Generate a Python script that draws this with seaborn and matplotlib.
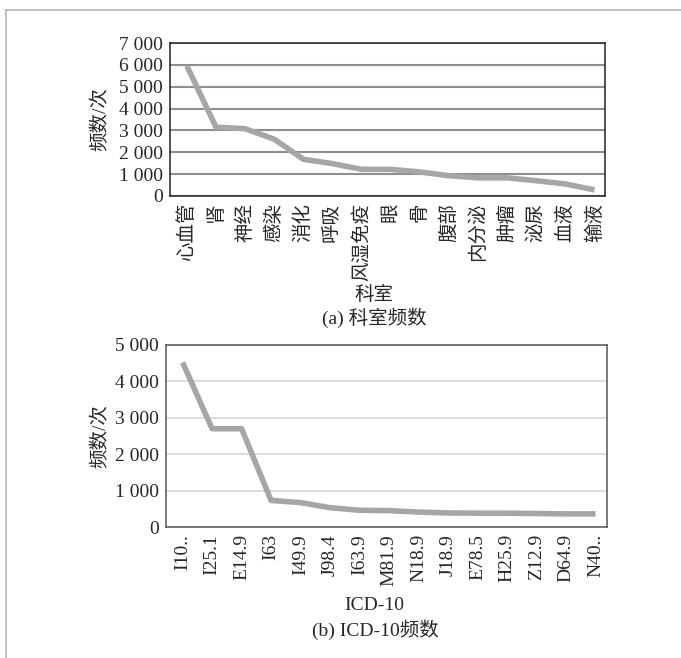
import numpy as np
import pandas as pd
import seaborn as sns
import matplotlib.pyplot as plt
from matplotlib.lines import Line2D
from matplotlib.ticker import FuncFormatter

# 科室频数
dept_names = ['心血管', '肾', '神经', '感染', '消化', '呼吸', '风湿免疫', '眼', '骨',
              '腹部', '内分泌', '肿瘤', '泌尿', '血液', '输液']
dept_counts = [5950, 3150, 3080, 2600, 1680, 1480, 1220, 1220, 1100,
               930, 830, 830, 700, 550, 280]

# ICD-10频数
icd_codes = ['I10..', 'I25.1', 'E14.9', 'I63', 'I49.9', 'J98.4', 'I63.9', 'M81.9',
             'N18.9', 'J18.9', 'E78.5', 'H25.9', 'Z12.9', 'D64.9', 'N40..']
icd_counts = [4520, 2700, 2700, 730, 670, 530, 460, 450,
              410, 385, 380, 380, 370, 360, 360]

sns.set_style('white')
plt.rcParams['font.family'] = ['Liberation Serif', 'Noto Sans CJK SC']
plt.rcParams['axes.unicode_minus'] = False

FS = 14
line_color = '#a6a6a6'

fig = plt.figure(figsize=(6.81, 6.58), dpi=100)

# 外框线（左、上）
fig.add_artist(Line2D([6/681, 1], [1 - 10/658, 1 - 10/658], transform=fig.transFigure,
                      color='#b4b4b4', lw=1.2))
fig.add_artist(Line2D([6/681, 6/681], [0, 1 - 10/658], transform=fig.transFigure,
                      color='#b4b4b4', lw=1.2))

fmt = FuncFormatter(lambda v, p: f'{int(v):,}'.replace(',', ' '))


def draw(ax, cats, vals, ymax, grid_color, grid_lw, spine_color, xlim, pad):
    df = pd.DataFrame({'cat': cats, 'val': vals})
    sns.lineplot(data=df, x='cat', y='val', ax=ax, sort=False, color=line_color,
                 linewidth=4.0, solid_joinstyle='round', solid_capstyle='butt', zorder=3)
    ax.set_ylim(0, ymax)
    ax.set_xlim(*xlim)
    ax.set_yticks(np.arange(0, ymax + 1, 1000))
    ax.yaxis.set_major_formatter(fmt)
    ax.grid(axis='y', color=grid_color, lw=grid_lw)
    ax.grid(axis='x', visible=False)
    ax.set_axisbelow(True)
    for s in ax.spines.values():
        s.set_color(spine_color)
        s.set_linewidth(1.1)
    ax.tick_params(axis='both', length=0, labelsize=FS, pad=pad)
    ax.tick_params(axis='x', rotation=90)
    ax.set_ylabel('频数/次', fontsize=FS)


ax1 = fig.add_axes([170/681, 1 - 196/658, 435/681, 153/658])
draw(ax1, dept_names, dept_counts, 7000, '#8f8f8f', 1.5, '#222222', (-0.58, 14.36), 5)
ax1.set_xlabel('科室', fontsize=FS)
ax1.yaxis.set_label_coords(-0.138, 0.5)
ax1.xaxis.set_label_coords((374 - 170) / 435, -0.585)

ax2 = fig.add_axes([165.5/681, 1 - 527/658, 441.5/681, 182/658])
draw(ax2, icd_codes, icd_counts, 5000, '#d9d9d9', 1.3, '#555555', (-0.58, 14.39), 5)
ax2.set_xlabel('ICD-10', fontsize=FS)
ax2.yaxis.set_label_coords(-0.126, 0.5)
ax2.xaxis.set_label_coords((374 - 165.5) / 441.5, -0.385)

fig.text(374/681, 1 - 318/658, '(a) 科室频数', ha='center', va='center', fontsize=FS)
fig.text(375/681, 1 - 630/658, '(b) ICD-10频数', ha='center', va='center', fontsize=FS)

fig.savefig('out.png', dpi=100)
